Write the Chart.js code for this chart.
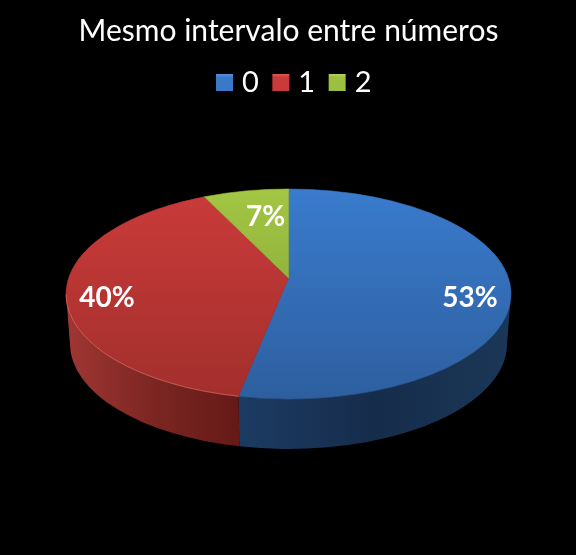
<!DOCTYPE html>
<html>
<head>
<meta charset="utf-8">
<style>
  html, body { margin: 0; background: #000; }
  canvas { display: block; }
</style>
<script src="https://cdn.jsdelivr.net/npm/chart.js@4"></script>
</head>
<body>
<canvas id="pie" width="576" height="555"></canvas>
<script>
const labels = ['0', '1', '2'];
const counts = [8, 6, 1];

const fontName = 'Lato, "Noto Sans", sans-serif';

// fake 3D: the round pie becomes an ellipse with a wall under it
const squash = 105 / 222.5;
const pieCenterY = 294;
const pieRadiusY = 105;
const apexLift = 16;     // the slices meet above the ellipse centre
const rimSkew = 0.08;    // perspective on where slice edges hit the rim
const wallDepth = 50;
const wallInset = 4;
const legendShift = 8;

const topColors = [['#3a7bcd', '#2d5f9f'], ['#ca3b3a', '#a22f2c'], ['#a3c644', '#7d9c32']];
const wallColors = [['#1c3b62', '#162c4b', '#1b3757'], ['#a03733', '#7c2622', '#651a17'], ['#5f7a28', '#5f7a28', '#5f7a28']];
const legendColors = [['#6aa0e6', '#3a78c8'], ['#e96a66', '#c93a38'], ['#c5e070', '#9cbf40']];

// label position on the radius, then a nudge per slice
const labelRadius = 0.82;
const labelNudge = [[0, -5], [0, -5], [15, 7]];

function topFill(ctx) {
  const pair = topColors[ctx.dataIndex];
  const g = ctx.chart.ctx.createLinearGradient(0, pieCenterY - pieRadiusY, 0, pieCenterY + pieRadiusY);
  g.addColorStop(0, pair[0]);
  g.addColorStop(1, pair[1]);
  return g;
}

function legendFill(i) {
  const g = document.createElement('canvas').getContext('2d').createLinearGradient(0, 72, 0, 90);
  g.addColorStop(0, legendColors[i][0]);
  g.addColorStop(0.3, legendColors[i][1]);
  g.addColorStop(1, legendColors[i][1]);
  return g;
}

function rimAngle(a) {
  const u = Math.cos(a);
  const v = Math.sin(a);
  const d = 1 - rimSkew * v;
  return Math.atan2((v - rimSkew) / d, u * Math.sqrt(1 - rimSkew * rimSkew) / d);
}

function rimRange(arc) {
  const from = rimAngle(arc.startAngle);
  let to = rimAngle(arc.endAngle);
  if (to <= from) to += Math.PI * 2;
  return [from, to];
}

const pie3d = {
  id: 'pie3d',
  afterLayout(chart) {
    chart.legend.left += legendShift;
    chart.legend.right += legendShift;
  },
  beforeDatasetDraw(chart) {
    const ctx = chart.ctx;
    const arcs = chart.getDatasetMeta(0).data;

    // walls, only the front half of the pie shows one
    arcs.forEach((arc, i) => {
      const range = rimRange(arc);
      const from = Math.max(range[0], 0);
      const to = Math.min(range[1], Math.PI);
      if (to <= from) return;
      const rx = arc.outerRadius;
      const ry = rx * squash;
      const g = ctx.createLinearGradient(arc.x + rx * Math.cos(to), 0, arc.x + rx * Math.cos(from), 0);
      g.addColorStop(0, wallColors[i][0]);
      g.addColorStop(0.5, wallColors[i][1]);
      g.addColorStop(1, wallColors[i][2]);
      ctx.beginPath();
      ctx.ellipse(arc.x, pieCenterY, rx, ry, 0, from, to);
      ctx.ellipse(arc.x, pieCenterY + wallDepth, rx - wallInset, ry, 0, to, from, true);
      ctx.closePath();
      ctx.fillStyle = g;
      ctx.fill();
    });

    // top faces, from the angles the pie controller worked out
    arcs.forEach((arc) => {
      const range = rimRange(arc);
      ctx.beginPath();
      ctx.moveTo(arc.x, pieCenterY - apexLift);
      ctx.ellipse(arc.x, pieCenterY, arc.outerRadius, arc.outerRadius * squash, 0, range[0], range[1]);
      ctx.closePath();
      ctx.fillStyle = arc.options.backgroundColor;
      ctx.strokeStyle = arc.options.backgroundColor;
      ctx.lineWidth = 0.6;
      ctx.fill();
      ctx.stroke();
    });

    // thin light rim where the red top meets its wall
    const red = arcs[1];
    const redRange = rimRange(red);
    ctx.beginPath();
    ctx.ellipse(red.x, pieCenterY, red.outerRadius, red.outerRadius * squash, 0,
      Math.max(redRange[0], 0), Math.min(redRange[1], Math.PI));
    ctx.strokeStyle = 'rgba(240,130,120,0.55)';
    ctx.lineWidth = 1;
    ctx.stroke();

    return false;
  },
  afterDraw(chart) {
    const ctx = chart.ctx;
    const arcs = chart.getDatasetMeta(0).data;
    const total = counts.reduce((a, b) => a + b, 0);

    ctx.font = 'bold 28px ' + fontName;
    ctx.fillStyle = '#fff';
    ctx.textAlign = 'center';
    ctx.textBaseline = 'middle';
    arcs.forEach((arc, i) => {
      const mid = (arc.startAngle + arc.endAngle) / 2;
      const x = arc.x + labelRadius * arc.outerRadius * Math.cos(mid);
      const y = pieCenterY + labelRadius * arc.outerRadius * squash * Math.sin(mid);
      const pct = Math.round(counts[i] / total * 100) + '%';
      ctx.fillText(pct, x + labelNudge[i][0], y + labelNudge[i][1]);
    });
  }
};

new Chart(document.getElementById('pie'), {
  type: 'pie',
  data: {
    labels: labels,
    datasets: [{
      data: counts,
      backgroundColor: topFill,
      borderWidth: 0
    }]
  },
  options: {
    responsive: false,
    animation: false,
    layout: { padding: { left: 66, right: 65, top: 0, bottom: 0 } },
    plugins: {
      title: {
        display: true,
        text: 'Mesmo intervalo entre números',
        color: '#fff',
        font: { family: fontName, size: 30, weight: 'normal' },
        padding: { top: 13, bottom: 0 }
      },
      legend: {
        position: 'top',
        labels: {
          color: '#fff',
          font: { family: fontName, size: 29 },
          usePointStyle: true,
          boxWidth: 6,
          boxHeight: 17,
          padding: 19,
          generateLabels: () => labels.map((text, i) => ({
            text: text,
            fillStyle: legendFill(i),
            strokeStyle: 'rgba(0,0,0,0)',
            lineWidth: 0,
            pointStyle: 'rect',
            fontColor: '#fff',
            index: i
          }))
        }
      },
      tooltip: { enabled: false }
    }
  },
  plugins: [pie3d]
});
</script>
</body>
</html>
